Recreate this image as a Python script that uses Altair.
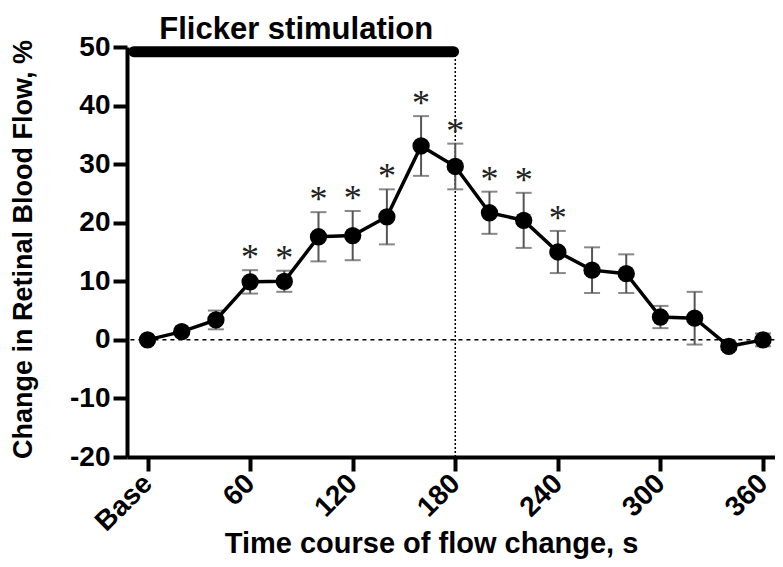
import altair as alt
import pandas as pd

# ---- data ----
times = [0, 20, 40, 60, 80, 100, 120, 140, 160, 180, 200, 220, 240, 260, 280, 300, 320, 340, 360]
means = [0.0, 1.4, 3.4, 9.9, 10.0, 17.6, 17.8, 21.0, 33.1, 29.6, 21.7, 20.4, 15.0, 11.9, 11.3, 3.9, 3.7, -1.1, 0.0]
errors = [0.0, 0.0, 1.6, 2.0, 1.8, 4.2, 4.2, 4.7, 5.1, 3.9, 3.6, 4.7, 3.6, 3.9, 3.3, 1.9, 4.5, 0.6, 1.1]
significant = [False, False, False, True, True, True, True, True, True, True, True, True, True,
               False, False, False, False, False, False]

x_tick_values = [0, 60, 120, 180, 240, 300, 360]
y_tick_values = [-20, -10, 0, 10, 20, 30, 40, 50]
stim_start, stim_end, stim_level = -8, 179, 49.2
stim_label = "Flicker stimulation"
x_title = "Time course of flow change, s"
y_title = "Change in Retinal Blood Flow, %"

df = pd.DataFrame({"t": times, "m": means, "e": errors, "sig": significant})
df["lo"] = df["m"] - df["e"]
df["hi"] = df["m"] + df["e"]
stars = df[df["sig"]].copy()

FONT = "Liberation Sans"

xs = alt.Scale(domain=[-12, 367], nice=False, zero=False)
ys = alt.Scale(domain=[-20, 50], nice=False, zero=False)

xax = alt.Axis(values=x_tick_values, labelExpr="datum.value == 0 ? 'Base' : toString(datum.value)",
               labelAngle=-45, labelAlign="right", labelBaseline="middle",
               labelFont=FONT, labelFontSize=28, labelFontWeight="bold",
               labelColor="black", labelPadding=8, tickSize=14, tickWidth=4, tickColor="black",
               domainWidth=4, domainColor="black", grid=False, title=x_title,
               titleFont=FONT, titleFontSize=29, titleFontWeight="bold", titleColor="black",
               titleX=304, titleY=95, titleAlign="center", titleBaseline="alphabetic")
yax = alt.Axis(values=y_tick_values, labelExpr="toString(datum.value)",
               labelFont=FONT, labelFontSize=28, labelFontWeight="bold",
               labelColor="black", labelPadding=3, tickSize=14, tickWidth=4, tickColor="black",
               domainWidth=4, domainColor="black", grid=False, title=y_title,
               titleFont=FONT, titleFontSize=27, titleFontWeight="bold", titleColor="black",
               titleX=-104, titleY=202, titleAlign="center", titleBaseline="middle", titleAngle=-90)

base = alt.Chart(df)

line = base.mark_line(color="black", strokeWidth=3.5).encode(
    x=alt.X("t:Q", scale=xs, axis=xax),
    y=alt.Y("m:Q", scale=ys, axis=yax),
)

zero_line = alt.Chart(pd.DataFrame({"a": [-10], "b": [367], "y": [0]})).mark_rule(
    color="black", strokeWidth=1.5, strokeDash=[4, 4]).encode(
    x=alt.X("a:Q", scale=xs), x2="b:Q", y=alt.Y("y:Q", scale=ys))

stim_end_line = alt.Chart(pd.DataFrame({"x": [stim_end + 1], "y1": [-20], "y2": [stim_level]})).mark_rule(
    color="black", strokeWidth=1.5, strokeDash=[2, 2]).encode(
    x=alt.X("x:Q", scale=xs), y=alt.Y("y1:Q", scale=ys), y2="y2:Q")

stim_bar = alt.Chart(pd.DataFrame({"a": [stim_start], "b": [stim_end], "y": [stim_level]})).mark_rule(
    color="black", strokeWidth=11, strokeCap="round").encode(
    x=alt.X("a:Q", scale=xs), x2="b:Q", y=alt.Y("y:Q", scale=ys))

stim_text = alt.Chart(pd.DataFrame({"x": [87], "y": [50], "txt": [stim_label]})).mark_text(
    font=FONT, fontSize=31, fontWeight="bold", color="black", baseline="alphabetic", dy=-8).encode(
    x=alt.X("x:Q", scale=xs), y=alt.Y("y:Q", scale=ys), text="txt:N")

err_df = df[df["e"] > 0]
err_rule = alt.Chart(err_df).mark_rule(color="#555555", strokeWidth=2).encode(
    x=alt.X("t:Q", scale=xs), y=alt.Y("lo:Q", scale=ys), y2="hi:Q")
cap_hi = alt.Chart(err_df).mark_tick(color="#555555", thickness=2, size=16, orient="horizontal").encode(
    x=alt.X("t:Q", scale=xs), y=alt.Y("hi:Q", scale=ys))
cap_lo = alt.Chart(err_df).mark_tick(color="#555555", thickness=2, size=16, orient="horizontal").encode(
    x=alt.X("t:Q", scale=xs), y=alt.Y("lo:Q", scale=ys))

points = base.mark_circle(color="black", opacity=1, size=300).encode(
    x=alt.X("t:Q", scale=xs), y=alt.Y("m:Q", scale=ys))

star_marks = alt.Chart(stars).mark_text(
    text="*", font="Liberation Serif", fontSize=36, color="#222222", baseline="alphabetic", dy=-1).encode(
    x=alt.X("t:Q", scale=xs), y=alt.Y("hi:Q", scale=ys))

chart = alt.layer(
    zero_line, stim_end_line, stim_bar, stim_text, err_rule, cap_hi, cap_lo, line, points, star_marks
).properties(
    width=648, height=410,
    autosize=alt.AutoSizeParams(type="none"),
    padding={"left": 119, "top": 39, "right": 0, "bottom": 102},
    background="white",
).configure_view(stroke=None)

chart.save("out.html", embed_options={"renderer": "svg", "actions": False})
